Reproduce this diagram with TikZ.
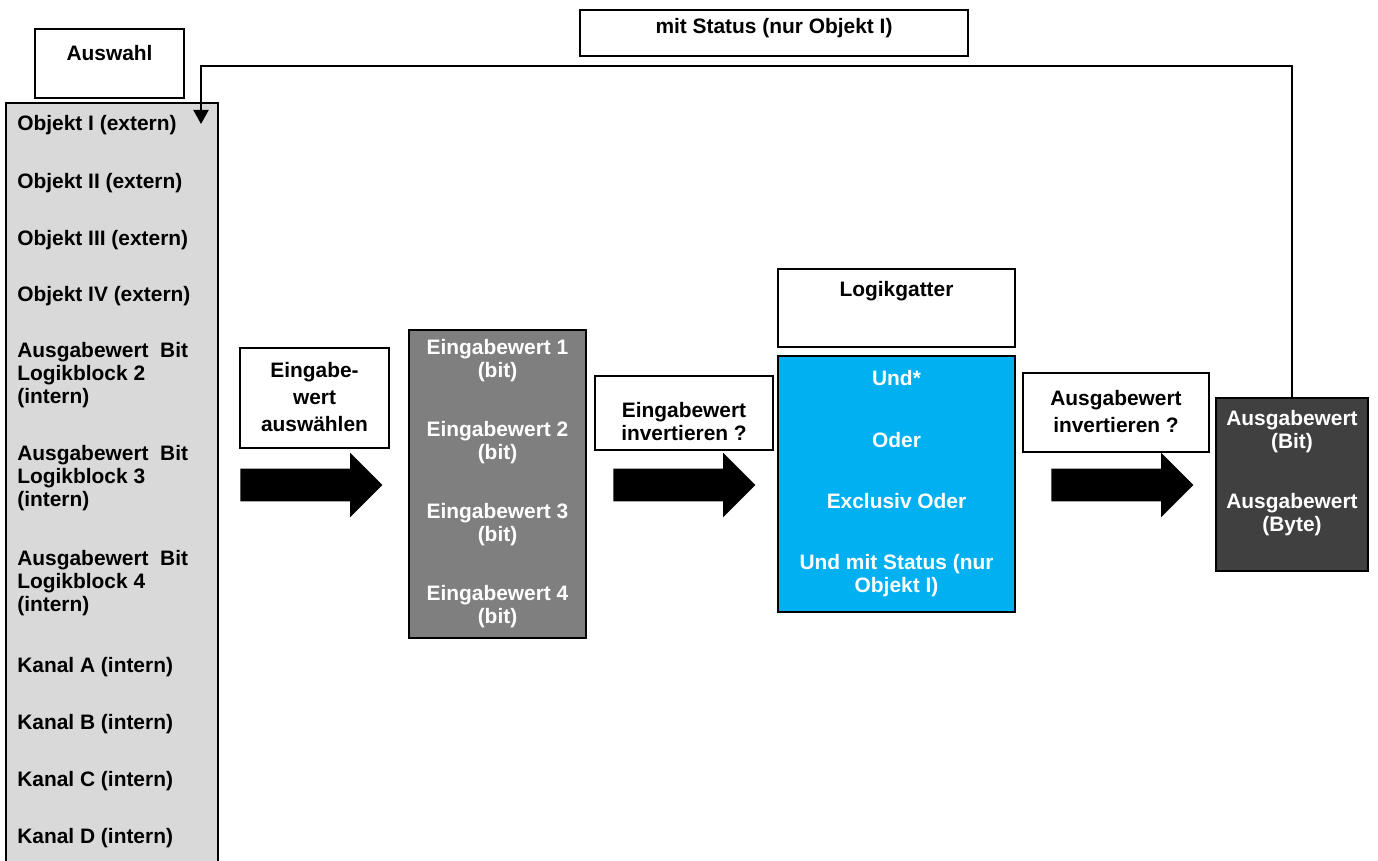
\documentclass[tikz,border=0pt]{standalone}
\usepackage{fontspec}
\setmainfont{Liberation Sans}
\usetikzlibrary{arrows.meta,positioning,shapes.arrows}
\definecolor{listgrau}{HTML}{D9D9D9}
\definecolor{eingrau}{HTML}{7F7F7F}
\definecolor{gatterblau}{HTML}{00B0F0}
\definecolor{ausgrau}{HTML}{404040}
\newcommand{\pxl}{0.02cm}

\begin{document}
\begin{tikzpicture}[
  x=0.02cm,
  y=-0.02cm,
  every node/.style={font=\fontsize{11.9}{13}\selectfont\bfseries},
  weit/.style={font=\fontsize{11.9}{15.3}\selectfont\bfseries},
  box/.style 2 args={rectangle, draw=black, line width=0.9pt, fill=white, inner sep=0pt,
    minimum width=#1*\pxl, minimum height=#2*\pxl},
  txt/.style={inner sep=0pt, align=center},
  listtxt/.style={inner sep=0pt, anchor=west, align=left},
  weiss/.style={txt, text=white},
  fatarrow/.style={single arrow, fill=black, anchor=tail,
    inner xsep=0pt, inner ysep=16*\pxl, minimum height=142*\pxl,
    single arrow head extend=16*\pxl, single arrow tip angle=90},
  feedback/.style={-{Triangle[length=2.8mm, width=3mm]}, line width=1.1pt}
]
  \useasboundingbox (0,0) rectangle (1378,861);
  % Auswahl: list of sources, runs off the bottom edge
  \node[box={210}{770}, draw=none, fill=listgrau, anchor=north] (liste) at (112,103) {};
  \draw[line width=0.9pt] (liste.south west) -- (liste.north west) -- (liste.north east) -- (liste.south east);
  \node[box={149}{69}] (auswahl) at (109.5,63.5) {};
  \node[txt] (auswahltxt) at (109.5,53) {Auswahl};
  \foreach \y/\t in {125/Objekt I (extern), 183/Objekt II (extern), 240/Objekt III (extern),
      296/Objekt IV (extern), 375/{Ausgabewert~ Bit\\Logikblock 2\\(intern)},
      478/{Ausgabewert~ Bit\\Logikblock 3\\(intern)}, 583/{Ausgabewert~ Bit\\Logikblock 4\\(intern)},
      667/Kanal A (intern), 724/Kanal B (intern), 781/Kanal C (intern), 838/Kanal D (intern)} {
    \node[listtxt] (l\y) at (17,\y) {\t};
  }
  % Status box on top
  \node[box={388}{46}] (status) at (774,33) {};
  \node[txt] (statustxt) at (774,28) {mit Status (nur Objekt I)};
  % Step 1: choose input value
  \node[box={149}{100}] (waehlen) at (314.5,398) {};
  \node[txt, weit] (waehlentxt) at (314.5,397) {Eingabe-\\wert\\auswählen};
  \node[fatarrow] (pfeil1) at (240,485) {};
  % Input values
  \node[box={177}{308}, fill=eingrau] (eingabe) at (497.5,484) {};
  \foreach \i in {1,...,4} {
    \node[weiss] (e\i) at (497.5,{361+(\i-1)*82}) {Eingabewert \i\\(bit)};
  }
  % Step 2: invert input
  \node[box={178}{74}] (invein) at (684,413) {};
  \node[txt] (invetxt) at (684,421.5) {Eingabewert\\invertieren ?};
  \node[fatarrow] (pfeil2) at (613,485) {};
  % Logic gate
  \node[box={237}{78}] (logik) at (896.5,308) {};
  \node[txt] (logiktxt) at (896.5,291) {Logikgatter};
  \node[box={237}{256}, fill=gatterblau] (gatter) at (896.5,484) {};
  \node[weiss] (g1) at (896.5,378) {Und*};
  \node[weiss] (g2) at (896.5,440) {Oder};
  \node[weiss] (g3) at (896.5,501) {Exclusiv Oder};
  \node[weiss] (g4) at (896.5,576) {Und mit Status (nur\\Objekt I)};
  % Step 3: invert output
  \node[box={186}{79}] (invaus) at (1116,412.5) {};
  \node[txt, weit] (invatxt) at (1116,411.5) {Ausgabewert\\invertieren ?};
  \node[fatarrow] (pfeil3) at (1051,485) {};
  % Output values
  \node[box={152}{173}, fill=ausgrau] (ausgabe) at (1292,484.5) {};
  \node[weiss] (a1) at (1292,432) {Ausgabewert\\(Bit)};
  \node[weiss] (a2) at (1292,515) {Ausgabewert\\(Byte)};
  % Feedback to Objekt I
  \coordinate (knick) at (201,66);
  \coordinate (rueck) at (201,124);
  \draw[feedback] (ausgabe.north) |- (knick) -- (rueck);
\end{tikzpicture}
\end{document}
